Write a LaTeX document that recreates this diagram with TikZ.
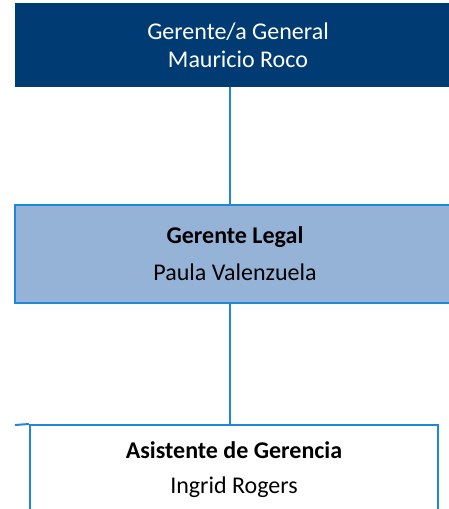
\documentclass[tikz,border=0pt]{standalone}
\usepackage{fontspec}
\setmainfont{Carlito}
\usetikzlibrary{positioning}
\definecolor{DarkBlue}{RGB}{0,59,115}
\definecolor{LightBlue}{RGB}{149,179,215}
\definecolor{LineBlue}{RGB}{32,134,216}
\tikzset{
    headbox/.style={fill=DarkBlue,text=white,minimum width=446pt,minimum height=84pt,
        inner sep=0pt,align=center,font=\fontsize{24}{28}\selectfont},
    unitbox/.style={draw=LineBlue,line width=2pt,fill=LightBlue,minimum width=440pt,
        minimum height=98pt,inner sep=0pt,align=center,font=\fontsize{24}{28}\selectfont},
    staffbox/.style={draw=LineBlue,line width=2pt,fill=white,minimum width=408pt,
        minimum height=130pt,inner sep=0pt},
    stafftext/.style={align=center,font=\fontsize{24}{28}\selectfont},
    link/.style={draw=LineBlue,line width=2pt}
}

\begin{document}
\begin{tikzpicture}[x=1pt,y=-1pt]
  \useasboundingbox (0,0) rectangle (449,509);
  \clip (0,0) rectangle (449,509);

  \node[headbox] (gerente) at (238,45) {Gerente/a General\\Mauricio Roco};
  \node[unitbox] (legal) at (235,254) {\textbf{Gerente Legal}\\[9pt]Paula Valenzuela};
  \node[staffbox] (asistente) at (234,490) {};
  \node[stafftext] (asistentetxt) at (234,470) {\textbf{Asistente de Gerencia}\\[7pt]Ingrid Rogers};

  \coordinate (spine) at (230,0);
  \coordinate (bar) at (15,425);
  \draw[link] (spine |- gerente.south) -- (spine |- legal.north);
  \draw[link] (spine |- legal.south) -- (spine |- asistente.north);
  \draw[link] (bar) -- (asistente.north west);
\end{tikzpicture}
\end{document}
